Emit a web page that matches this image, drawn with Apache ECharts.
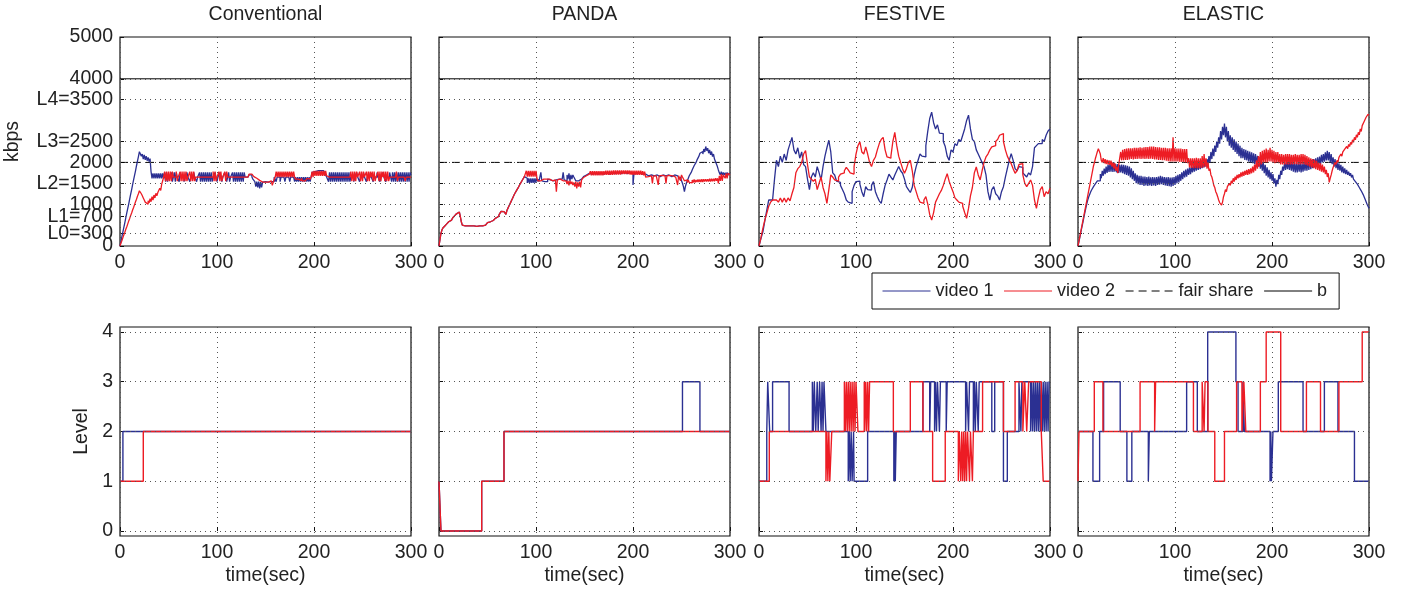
<!DOCTYPE html>
<html>
<head>
<meta charset="utf-8">
<script src="https://cdn.jsdelivr.net/npm/echarts@6/dist/echarts.min.js"></script>
<style>
  html, body { margin: 0; padding: 0; background: #fff; }
  #chart { width: 1413px; height: 593px; }
</style>
</head>
<body>
<div id="chart"></div>
<script>
// Two competing video players sharing one bottleneck link, four rate-adaptation schemes.
// Rates (kbps) are sampled on a regular grid from 0 to 300 s (step per scheme below);
// quality levels are step changes given as [time, level].

const SCHEMES = ['Conventional', 'PANDA', 'FESTIVE', 'ELASTIC'];
const SAMPLE_STEP_SEC = [1, 1, 2, 1];
const TIME_TICKS = [0, 100, 200, 300];

const RATE_TICKS = [0, 300, 700, 1000, 1500, 2000, 2500, 3500, 4000, 5000];
const RATE_TICK_LABELS = ['0', 'L0=300', 'L1=700', '1000', 'L2=1500', '2000', 'L3=2500', 'L4=3500', '4000', '5000'];
const LEVEL_TICKS = [0, 1, 2, 3, 4];

const FAIR_SHARE_KBPS = 2000;
const BOTTLENECK_KBPS = 4000;

// ---- Conventional (1 s samples) ----
const convRate1 = [
  0, 110, 230, 340, 450, 560, 680, 790, 900, 1010, 1130, 1240, 1350, 1470, 1580, 1690, 1800, 1920, 2030, 2140,
  2256, 2230, 2150, 2200, 2080, 2180, 2060, 2150, 2040, 2120, 2020, 2090, 1780, 1620, 1740, 1620, 1740, 1620, 1740, 1620,
  1740, 1620, 1740, 1620, 1740, 1620, 1760, 1540, 1760, 1540, 1650, 1650, 1650, 1760, 1540, 1650, 1760, 1540, 1760, 1650,
  1650, 1540, 1760, 1650, 1650, 1650, 1540, 1650, 1650, 1760, 1650, 1650, 1540, 1650, 1650, 1650, 1760, 1650, 1650, 1540,
  1650, 1650, 1760, 1540, 1760, 1540, 1760, 1540, 1760, 1540, 1760, 1540, 1760, 1540, 1760, 1540, 1650, 1650, 1760, 1650,
  1540, 1650, 1650, 1760, 1650, 1540, 1650, 1650, 1760, 1650, 1540, 1650, 1760, 1540, 1650, 1650, 1760, 1540, 1760, 1540,
  1760, 1540, 1760, 1540, 1760, 1540, 1760, 1540, 1760, 1650, 1650, 1650, 1650, 1700, 1720, 1700, 1650, 1600, 1560, 1540,
  1420, 1540, 1400, 1540, 1380, 1530, 1400, 1530, 1530, 1540, 1530, 1540, 1530, 1540, 1530, 1540, 1540, 1530, 1540, 1650,
  1650, 1540, 1650, 1650, 1650, 1540, 1650, 1650, 1650, 1650, 1540, 1650, 1650, 1650, 1650, 1540, 1650, 1650, 1650, 1650,
  1540, 1650, 1540, 1650, 1540, 1650, 1540, 1650, 1540, 1650, 1540, 1650, 1540, 1650, 1540, 1650, 1540, 1650, 1760, 1780,
  1780, 1800, 1760, 1800, 1780, 1760, 1800, 1780, 1760, 1800, 1780, 1760, 1700, 1650, 1650, 1540, 1760, 1540, 1760, 1540,
  1760, 1540, 1760, 1540, 1760, 1540, 1760, 1540, 1760, 1540, 1760, 1540, 1760, 1540, 1760, 1540, 1760, 1540, 1650, 1650,
  1650, 1540, 1650, 1650, 1760, 1650, 1650, 1540, 1650, 1650, 1650, 1760, 1650, 1650, 1540, 1650, 1650, 1650, 1760, 1650,
  1650, 1540, 1650, 1650, 1650, 1760, 1650, 1650, 1540, 1650, 1650, 1760, 1650, 1650, 1540, 1650, 1650, 1650, 1760, 1650,
  1540, 1760, 1540, 1760, 1540, 1760, 1540, 1760, 1540, 1760, 1540, 1760, 1540, 1760, 1540, 1760, 1540, 1760, 1540, 1760,
  1700
];
const convRate2 = [
  0, 70, 130, 200, 270, 330, 400, 460, 530, 600, 660, 730, 790, 860, 920, 990, 1060, 1120, 1190, 1250,
  1320, 1290, 1250, 1200, 1150, 1100, 1050, 1010, 1000, 1080, 1030, 1130, 1060, 1180, 1100, 1220, 1150, 1260, 1200, 1280,
  1250, 1380, 1330, 1480, 1560, 1650, 1780, 1550, 1780, 1550, 1780, 1550, 1780, 1550, 1780, 1650, 1650, 1650, 1780, 1550,
  1650, 1650, 1780, 1550, 1780, 1550, 1780, 1550, 1780, 1550, 1650, 1650, 1780, 1550, 1780, 1550, 1780, 1550, 1650, 1650,
  1650, 1650, 1650, 1650, 1650, 1650, 1650, 1650, 1650, 1650, 1650, 1650, 1650, 1650, 1650, 1650, 1780, 1550, 1780, 1550,
  1650, 1650, 1780, 1550, 1780, 1550, 1650, 1650, 1780, 1550, 1780, 1650, 1650, 1650, 1650, 1650, 1650, 1650, 1650, 1650,
  1650, 1650, 1650, 1650, 1650, 1650, 1650, 1650, 1650, 1650, 1650, 1650, 1680, 1720, 1750, 1720, 1700, 1680, 1660, 1640,
  1620, 1600, 1580, 1570, 1560, 1540, 1530, 1530, 1530, 1530, 1530, 1540, 1530, 1540, 1550, 1560, 1580, 1450, 1420, 1600,
  1650, 1780, 1650, 1780, 1650, 1780, 1650, 1780, 1650, 1780, 1650, 1780, 1650, 1780, 1650, 1780, 1650, 1780, 1650, 1780,
  1650, 1600, 1560, 1600, 1560, 1600, 1560, 1620, 1560, 1600, 1560, 1600, 1560, 1620, 1580, 1600, 1620, 1650, 1780, 1650,
  1800, 1680, 1800, 1680, 1800, 1680, 1800, 1680, 1800, 1680, 1800, 1680, 1800, 1680, 1650, 1650, 1650, 1650, 1650, 1650,
  1650, 1650, 1650, 1650, 1650, 1650, 1650, 1650, 1650, 1650, 1650, 1650, 1650, 1650, 1650, 1650, 1650, 1650, 1780, 1550,
  1780, 1550, 1780, 1550, 1780, 1650, 1650, 1780, 1550, 1780, 1550, 1780, 1650, 1650, 1780, 1550, 1780, 1550, 1780, 1650,
  1780, 1550, 1780, 1550, 1650, 1650, 1780, 1550, 1780, 1550, 1780, 1650, 1780, 1550, 1780, 1550, 1780, 1550, 1650, 1650,
  1650, 1650, 1650, 1650, 1650, 1780, 1550, 1650, 1650, 1650, 1650, 1650, 1650, 1650, 1550, 1650, 1650, 1650, 1650, 1650,
  1650
];
const convLevel1 = [[0, 1], [3, 2], [300, 2]];
const convLevel2 = [[0, 1], [24, 2], [300, 2]];

// ---- PANDA (1 s samples) ----
const pandaRate1 = [
  0, 150, 300, 380, 430, 460, 480, 500, 530, 550, 580, 600, 620, 650, 670, 700, 720, 750, 770, 790,
  810, 830, 700, 580, 500, 490, 480, 480, 480, 480, 480, 480, 480, 480, 470, 480, 480, 480, 470, 480,
  480, 480, 470, 480, 480, 470, 490, 500, 520, 540, 560, 560, 580, 590, 600, 610, 620, 640, 660, 680,
  700, 720, 750, 790, 830, 870, 820, 860, 800, 760, 850, 900, 950, 1000, 1050, 1100, 1150, 1200, 1250, 1290,
  1330, 1370, 1410, 1450, 1500, 1540, 1580, 1620, 1660, 1700, 1620, 1510, 1620, 1510, 1620, 1510, 1620, 1510, 1620, 1510,
  1620, 1540, 1600, 1540, 1580, 1760, 1560, 1600, 1540, 1580, 1560, 1540, 1600, 1560, 1580, 1540, 1600, 1560, 1580, 1560,
  1580, 1560, 1540, 1600, 1580, 1560, 1600, 1580, 1760, 1580, 1600, 1560, 1700, 1600, 1740, 1560, 1700, 1600, 1700, 1650,
  1620, 1560, 1540, 1560, 1580, 1560, 1600, 1620, 1640, 1660, 1680, 1700, 1720, 1700, 1740, 1720, 1740, 1720, 1740, 1720,
  1740, 1720, 1740, 1720, 1740, 1720, 1740, 1720, 1740, 1720, 1740, 1720, 1750, 1720, 1750, 1720, 1750, 1720, 1750, 1720,
  1760, 1730, 1760, 1730, 1760, 1730, 1760, 1730, 1760, 1730, 1760, 1730, 1760, 1730, 1760, 1730, 1760, 1730, 1760, 1730,
  1460, 1730, 1760, 1730, 1760, 1730, 1750, 1720, 1750, 1720, 1740, 1700, 1720, 1700, 1700, 1680, 1700, 1680, 1700, 1680,
  1700, 1680, 1700, 1660, 1700, 1680, 1700, 1660, 1700, 1680, 1700, 1660, 1700, 1680, 1700, 1660, 1700, 1680, 1700, 1660,
  1700, 1680, 1700, 1660, 1700, 1680, 1660, 1680, 1600, 1650, 1560, 1500, 1420, 1300, 1420, 1500, 1560, 1620, 1680, 1720,
  1760, 1820, 1860, 1920, 1960, 2000, 2060, 2100, 2150, 2220, 2180, 2260, 2200, 2320, 2250, 2380, 2280, 2340, 2220, 2300,
  2180, 2260, 2140, 2200, 2080, 2100, 1960, 1900, 1820, 1750, 1700, 1780, 1700, 1760, 1700, 1750, 1700, 1760, 1700, 1740,
  1700
];
const pandaRate2 = [
  0, 150, 300, 380, 430, 460, 480, 500, 530, 550, 580, 600, 620, 650, 670, 700, 720, 750, 770, 790,
  810, 830, 700, 580, 500, 490, 480, 480, 480, 480, 480, 480, 480, 480, 470, 480, 480, 480, 470, 480,
  480, 480, 470, 480, 480, 470, 490, 500, 520, 540, 560, 560, 580, 590, 600, 610, 620, 640, 660, 680,
  700, 720, 750, 790, 830, 870, 820, 860, 800, 760, 850, 900, 950, 1000, 1050, 1100, 1150, 1200, 1250, 1290,
  1330, 1370, 1410, 1450, 1500, 1540, 1580, 1620, 1660, 1700, 1800, 1660, 1800, 1660, 1800, 1660, 1800, 1660, 1800, 1660,
  1800, 1620, 1560, 1600, 1560, 1580, 1560, 1600, 1560, 1580, 1600, 1560, 1580, 1600, 1560, 1580, 1560, 1600, 1560, 1580,
  1560, 1300, 1580, 1560, 1600, 1560, 1580, 1560, 1560, 1600, 1560, 1580, 1480, 1560, 1450, 1560, 1480, 1540, 1460, 1520,
  1420, 1540, 1380, 1520, 1420, 1540, 1400, 1580, 1620, 1640, 1660, 1680, 1700, 1680, 1720, 1700, 1790, 1690, 1790, 1690,
  1790, 1690, 1790, 1690, 1790, 1690, 1790, 1690, 1790, 1690, 1790, 1700, 1800, 1700, 1800, 1700, 1800, 1700, 1800, 1700,
  1810, 1710, 1810, 1710, 1810, 1710, 1810, 1710, 1810, 1720, 1810, 1720, 1810, 1720, 1810, 1720, 1810, 1710, 1800, 1700,
  1800, 1700, 1800, 1700, 1800, 1700, 1800, 1700, 1800, 1700, 1790, 1690, 1780, 1650, 1680, 1660, 1690, 1650, 1680, 1660,
  1500, 1680, 1650, 1680, 1660, 1650, 1460, 1680, 1650, 1690, 1660, 1650, 1680, 1660, 1500, 1680, 1650, 1690, 1660, 1650,
  1680, 1700, 1660, 1650, 1690, 1680, 1460, 1680, 1650, 1560, 1700, 1650, 1680, 1560, 1540, 1580, 1520, 1580, 1520, 1560,
  1510, 1580, 1520, 1590, 1520, 1580, 1530, 1590, 1530, 1590, 1530, 1600, 1530, 1600, 1540, 1600, 1540, 1600, 1540, 1610,
  1540, 1610, 1550, 1610, 1550, 1620, 1560, 1620, 1500, 1680, 1560, 1720, 1560, 1700, 1740, 1620, 1740, 1620, 1740, 1700,
  1700
];
const pandaLevel1 = [[0, 1], [2, 0], [44, 1], [67, 2], [251, 3], [269, 2], [300, 2]];
const pandaLevel2 = [[0, 1], [2, 0], [44, 1], [67, 2], [300, 2]];

// ---- FESTIVE (2 s samples) ----
const festiveRate1 = [
  0, 180, 340, 600, 850, 1100, 1100, 1100, 1600, 2050,
  1900, 2150, 2000, 2200, 2050, 2300, 2450, 2600, 2300, 2200,
  2350, 2100, 2250, 1950, 1900, 1600, 1350, 1650, 1750, 1650,
  1900, 1750, 1580, 1900, 2150, 2350, 2530, 2250, 1750, 1700,
  1550, 1520, 1450, 1350, 1250, 1100, 1050, 1020, 1300, 1450,
  1540, 1550, 1480, 1300, 1180, 1420, 1350, 1340, 1450, 1540,
  1300, 1180, 1080, 1020, 1250, 1450, 1580, 1720, 1650, 1580,
  1700, 1800, 1900, 1800, 1740, 1600, 1420, 1350, 1280, 1400,
  1700, 1900, 2050, 2200, 2150, 2130, 2400, 2750, 3050, 3200,
  2950, 2800, 2900, 2700, 2690, 2500, 2380, 2150, 2050, 2300,
  2250, 2450, 2400, 2550, 2500, 2650, 2800, 3000, 3130, 2800,
  2550, 2500, 2300, 2200, 2100, 2000, 1900, 1700, 1300, 1100,
  1350, 1420, 1250, 1200, 1100, 1300, 1420, 1650, 1850, 2050,
  2210, 2050, 1850, 1800, 1900, 1880, 1750, 1700, 1650, 1750,
  1700, 1900, 2350, 2400, 2450, 2450, 2550, 2500, 2650, 2750,
  2800
];
const festiveRate2 = [
  0, 200, 420, 620, 780, 950, 1050, 1100, 1100, 1100,
  1050, 1150, 1050, 1150, 1050, 1150, 1080, 1250, 1400, 1750,
  1850, 1900, 2000, 2200, 2280, 1950, 1650, 1600, 1550, 1600,
  1350, 1500, 1650, 1400, 1250, 1020, 1350, 1700, 1650, 1580,
  1550, 1650, 1720, 1750, 1800, 1880, 1820, 1750, 1720, 1900,
  2200, 2400, 2490, 2250, 2200, 2370, 2200, 2000, 1900, 2050,
  2130, 2300, 2450, 2550, 2600, 2300, 2130, 2100, 2150, 2500,
  2720, 2400, 2150, 2000, 1850, 1740, 1850, 2000, 2050, 1800,
  1450, 1300, 1150, 1050, 1020, 1100, 1180, 1000, 750, 620,
  800, 1050, 1150, 1250, 1330, 1450, 1600, 1730, 1550, 1420,
  1300, 1150, 1100, 1050, 1020, 950, 800, 660, 900, 1200,
  1400, 1750, 1890, 1700, 1580, 1800, 2000, 2130, 2200, 2300,
  2370, 2400, 2500, 2550, 2650, 2690, 2500, 2300, 2150, 2050,
  1970, 1850, 1740, 1800, 1950, 1970, 1700, 1500, 1420, 1500,
  1580, 1450, 1100, 900, 1150, 1350, 1420, 1180, 1300, 1250,
  1380
];
const festiveLevel1 = [
  [0, 1], [8, 2], [9, 3], [11, 2], [14, 3], [31, 2], [55, 3], [56, 2], [57, 3], [58.5, 2],
  [60, 3], [61, 2], [62.5, 3], [64, 2], [65, 3], [66, 2], [67, 3], [69, 2], [92, 1], [93, 2],
  [94, 1], [95, 2], [96, 1], [97.5, 2], [98, 1], [112, 2], [139, 1], [140, 2], [140.5, 1], [141.5, 2],
  [169, 3], [176, 2], [177, 3], [181, 2], [182, 3], [183, 2], [184, 3], [186, 2], [187, 3], [193, 2],
  [194, 3], [213, 2], [214, 3], [216, 2], [217, 3], [221, 2], [222, 3], [223, 2], [224, 3], [226, 2],
  [227, 3], [240, 2], [243, 3], [252, 1], [256, 2], [268, 3], [270, 2], [271, 3], [280, 2], [281, 3],
  [282, 2], [283, 3], [284, 2], [285, 3], [286, 2], [287, 3], [288, 2], [289, 3], [290, 2], [291, 3],
  [292, 2], [293, 3], [294, 2], [295, 3], [296, 2], [297, 3], [298, 2], [299, 3], [300, 3]
];
const festiveLevel2 = [
  [0, 1], [10.6, 2], [69, 1], [70, 2], [71, 1], [72, 2], [73, 1], [75, 2], [88, 3], [89, 2],
  [90, 3], [91, 2], [92, 3], [93, 2], [94, 3], [95, 2], [96, 3], [97, 2], [98, 3], [99, 2],
  [100, 3], [102, 2], [108.5, 3], [109, 2], [110, 3], [111, 2], [112, 3], [113, 2], [114, 3], [138.5, 2],
  [156, 3], [169, 2], [179, 1], [192, 2], [205.5, 1], [206.5, 2], [208, 1], [209, 2], [210, 1], [211, 2],
  [212, 1], [213, 2], [214, 1], [215, 2], [217, 1], [218, 2], [220, 1], [221, 2], [230.5, 3], [252, 2],
  [264, 3], [272, 2], [274, 3], [276, 2], [278, 3], [291, 2], [293, 1], [300, 1]
];

// ---- ELASTIC (1 s samples) ----
const elasticRate1 = [
  0, 110, 220, 340, 450, 560, 680, 790, 900, 1000, 1100, 1170, 1230, 1290, 1340, 1380, 1420, 1460, 1490, 1520,
  1560, 1600, 1560, 1720, 1620, 1800, 1680, 1850, 1720, 1900, 1750, 1950, 1770, 1980, 1780, 1990, 1770, 2000, 1780, 1960,
  1760, 1960, 1750, 1940, 1760, 1950, 1740, 1940, 1720, 1930, 1700, 1920, 1680, 1900, 1640, 1860, 1600, 1800, 1560, 1740,
  1500, 1700, 1480, 1680, 1460, 1680, 1460, 1660, 1440, 1660, 1450, 1650, 1440, 1660, 1450, 1640, 1440, 1650, 1450, 1640,
  1440, 1650, 1460, 1660, 1470, 1680, 1480, 1660, 1460, 1650, 1450, 1640, 1440, 1650, 1430, 1640, 1420, 1640, 1440, 1650,
  1460, 1680, 1500, 1700, 1520, 1720, 1560, 1760, 1600, 1800, 1640, 1830, 1660, 1850, 1700, 1880, 1720, 1900, 1760, 1940,
  1780, 1960, 1800, 1980, 1820, 2000, 1840, 2020, 1860, 2040, 1880, 2060, 1900, 2080, 1940, 2150, 2000, 2250, 2080, 2330,
  2150, 2400, 2250, 2500, 2350, 2600, 2450, 2750, 2550, 2850, 2650, 2930, 2600, 2850, 2500, 2750, 2400, 2650, 2350, 2600,
  2300, 2550, 2250, 2500, 2200, 2450, 2150, 2400, 2100, 2350, 2100, 2320, 2060, 2300, 2050, 2280, 2020, 2260, 2000, 2240,
  1980, 2220, 1960, 2200, 1940, 2160, 1900, 2120, 1850, 2050, 1800, 2000, 1740, 1940, 1680, 1880, 1640, 1820, 1600, 1760,
  1560, 1720, 1500, 1620, 1420, 1580, 1480, 1700, 1600, 1800, 1700, 1900, 1800, 2000, 1820, 2020, 1840, 2050, 1820, 2040,
  1800, 2020, 1780, 2000, 1760, 1980, 1760, 2000, 1780, 2000, 1760, 1980, 1780, 2000, 1800, 2020, 1800, 2040, 1820, 2060,
  1840, 2060, 1860, 2080, 1880, 2100, 1900, 2120, 1920, 2140, 1960, 2180, 2000, 2200, 2020, 2240, 2050, 2280, 2050, 2250,
  2000, 2200, 1960, 2120, 1900, 2080, 1860, 2020, 1820, 1980, 1800, 1940, 1760, 1900, 1740, 1860, 1720, 1820, 1700, 1780,
  1680, 1740, 1640, 1700, 1600, 1640, 1540, 1580, 1480, 1500, 1400, 1420, 1320, 1330, 1230, 1200, 1120, 1080, 1000, 950,
  900
];
const elasticRate2 = [
  0, 120, 240, 360, 480, 600, 720, 840, 960, 1080, 1200, 1320, 1440, 1560, 1680, 1800, 1920, 2000, 2100, 2180,
  2260, 2330, 2375, 2200, 2050, 2000, 2100, 1980, 2080, 1960, 2060, 1950, 2050, 1940, 2040, 1900, 2000, 1850, 1980, 1800,
  1900, 1740, 1950, 2100, 2250, 2050, 2300, 2050, 2320, 2060, 2330, 2060, 2340, 2070, 2340, 2080, 2340, 2070, 2350, 2080,
  2350, 2080, 2350, 2090, 2360, 2080, 2350, 2090, 2360, 2080, 2370, 2090, 2370, 2080, 2380, 2090, 2380, 2080, 2380, 2070,
  2370, 2070, 2360, 2060, 2360, 2060, 2350, 2050, 2350, 2050, 2350, 2040, 2340, 2030, 2340, 2020, 2340, 2020, 2600, 2020,
  2340, 2020, 2330, 2020, 2330, 2010, 2330, 2010, 2320, 2000, 2320, 2000, 2320, 1980, 2100, 1880, 2100, 1870, 2100, 1860,
  2100, 1860, 2110, 1860, 2100, 1860, 2100, 1870, 2150, 1880, 2200, 1900, 2100, 1850, 2000, 1800, 1850, 1700, 1650, 1560,
  1450, 1400, 1300, 1250, 1180, 1100, 1040, 1000, 980, 1050, 1180, 1250, 1350, 1300, 1420, 1380, 1500, 1450, 1560, 1500,
  1620, 1540, 1660, 1580, 1700, 1620, 1720, 1640, 1760, 1660, 1780, 1680, 1800, 1700, 1820, 1700, 1840, 1720, 1860, 1740,
  1900, 1760, 1950, 1800, 2050, 1850, 2150, 1900, 2250, 1950, 2280, 1980, 2300, 2000, 2330, 2000, 2300, 2020, 2350, 2020,
  2300, 2000, 2280, 1980, 2250, 2000, 2250, 1980, 2200, 1950, 2200, 1950, 2180, 1950, 2200, 1950, 2200, 1950, 2200, 1950,
  2180, 1950, 2180, 1960, 2200, 1960, 2180, 1950, 2180, 1950, 2200, 1960, 2200, 1960, 2180, 1940, 2150, 1920, 2120, 1900,
  2100, 1880, 2080, 1860, 2060, 1840, 2040, 1820, 2000, 1800, 1980, 1780, 1950, 1760, 1900, 1720, 1820, 1650, 1740, 1520,
  1620, 1700, 1800, 1880, 1900, 2000, 1950, 2050, 2000, 2120, 2080, 2200, 2150, 2250, 2220, 2320, 2280, 2380, 2330, 2430,
  2380, 2480, 2430, 2540, 2480, 2600, 2540, 2660, 2600, 2720, 2660, 2800, 2740, 2880, 2840, 2980, 2950, 3080, 3050, 3150,
  3130
];
const elasticLevel1 = [
  [0, 2], [15.4, 1], [22.3, 2], [26.4, 3], [43.5, 2], [50.4, 1], [55.5, 2], [72.5, 1], [73.5, 2], [112, 3],
  [123, 2], [133.7, 4], [162.8, 3], [165, 2], [170, 3], [171.5, 2], [198, 1], [198.8, 2], [199.4, 1], [201, 2],
  [206.5, 3], [232, 2], [254, 3], [268, 2], [285, 1], [300, 1]
];
const elasticLevel2 = [
  [0, 1], [1, 2], [16.8, 3], [25.7, 2], [64, 3], [79, 2], [80, 3], [119, 2], [128, 3], [130, 2],
  [131, 3], [134, 2], [141, 1], [151, 2], [163.5, 3], [169, 2], [171, 3], [173, 2], [188, 3], [194, 4],
  [209, 2], [235.5, 3], [250, 2], [269, 3], [293, 4], [300, 4]
];

const RATES = [[convRate1, convRate2], [pandaRate1, pandaRate2], [festiveRate1, festiveRate2], [elasticRate1, elasticRate2]];
const LEVELS = [[convLevel1, convLevel2], [pandaLevel1, pandaLevel2], [festiveLevel1, festiveLevel2], [elasticLevel1, elasticLevel2]];

// ---- styling / layout ----
const FONT = '"Liberation Sans", Arial, Helvetica, sans-serif';
const TEXT_COLOR = '#222';
const BLUE = '#2b3092';
const RED = '#ed1c24';
const DOT = { type: [1, 4], color: '#555', width: 1 };
const COL_LEFT = [120, 439, 759, 1078];
const PLOT_W = 291, PLOT_H = 209;
const ROW_TOP = [37, 327];
const FS = 19.5;
const LEGEND_FS = 18;

function samplesToPairs(values, step) {
  return values.map((v, i) => [i * step, v]);
}

function gridLineSeries(idx, values) {
  return {
    type: 'line', xAxisIndex: idx, yAxisIndex: idx, data: [], silent: true, z: 1,
    markLine: {
      silent: true, animation: false, symbol: ['none', 'none'],
      label: { show: false }, emphasis: { disabled: true },
      lineStyle: DOT,
      data: values.map(v => ({ yAxis: v }))
    }
  };
}

const rateFormatter = v => RATE_TICK_LABELS[RATE_TICKS.indexOf(v)];
// Tick labels of the kbps axis sit close together; they are split over two
// label layers so neighbouring labels are never dropped as overlapping.
const RATE_LABELS_A = RATE_TICKS.filter((_, i) => i % 2 === 0);
const RATE_LABELS_B = RATE_TICKS.filter((_, i) => i % 2 === 1);

const grid = [], xAxis = [], yAxis = [], series = [], graphic = [];
const tMin = TIME_TICKS[0], tMax = TIME_TICKS[TIME_TICKS.length - 1];

for (let row = 0; row < 2; row++) {
  for (let c = 0; c < 4; c++) {
    const idx = row * 4 + c;
    grid.push({
      left: COL_LEFT[c], top: ROW_TOP[row], width: PLOT_W, height: PLOT_H,
      show: true, borderColor: '#111', borderWidth: 1.2, backgroundColor: 'transparent'
    });
    xAxis.push({
      gridIndex: idx, type: 'value', min: tMin, max: tMax, interval: 100,
      axisLine: { show: false },
      axisTick: { show: true, inside: true, length: 4, lineStyle: { color: '#111' } },
      axisLabel: {
        show: true, margin: 7, fontSize: FS, color: TEXT_COLOR, fontFamily: FONT,
        showMinLabel: true, showMaxLabel: true, hideOverlap: false
      },
      splitLine: { show: true, lineStyle: DOT },
      name: row === 1 ? 'time(sec)' : '',
      nameLocation: 'middle', nameGap: 30,
      nameTextStyle: { fontSize: FS, color: TEXT_COLOR, fontFamily: FONT }
    });
    const ticks = row === 0 ? RATE_TICKS : LEVEL_TICKS;
    yAxis.push({
      gridIndex: idx, type: 'value',
      min: row === 0 ? 0 : -0.1, max: row === 0 ? 5000 : 4.1,
      axisLine: { show: false },
      axisTick: { show: true, inside: true, length: 4, customValues: ticks, lineStyle: { color: '#111' } },
      axisLabel: {
        show: c === 0, margin: 7, fontSize: FS, color: TEXT_COLOR, fontFamily: FONT,
        customValues: row === 0 ? RATE_LABELS_A : LEVEL_TICKS,
        showMinLabel: true, showMaxLabel: true, hideOverlap: false,
        formatter: row === 0 ? rateFormatter : (v => String(v))
      },
      splitLine: { show: false },
      name: c === 0 ? (row === 0 ? 'kbps' : 'Level') : '',
      nameLocation: 'middle', nameGap: row === 0 ? 97 : 28,
      nameTextStyle: { fontSize: FS, color: TEXT_COLOR, fontFamily: FONT }
    });

    if (row === 0) {
      const step = SAMPLE_STEP_SEC[c];
      series.push(gridLineSeries(idx, RATE_TICKS.slice(1, -1)));
      series.push({
        name: 'b', type: 'line', xAxisIndex: idx, yAxisIndex: idx, z: 2,
        symbol: 'none', silent: true, color: '#000',
        lineStyle: { color: '#000', width: 1 },
        data: [[tMin, BOTTLENECK_KBPS], [tMax, BOTTLENECK_KBPS]]
      });
      series.push({
        name: 'fair share', type: 'line', xAxisIndex: idx, yAxisIndex: idx, z: 2,
        symbol: 'none', silent: true, color: '#000',
        lineStyle: { color: '#000', width: 1, type: [8, 5] },
        data: [[tMin, FAIR_SHARE_KBPS], [tMax, FAIR_SHARE_KBPS]]
      });
      series.push({
        name: 'video 1', type: 'line', xAxisIndex: idx, yAxisIndex: idx, z: 3,
        symbol: 'none', silent: true, step: 'end', color: BLUE,
        lineStyle: { color: BLUE, width: 1.3 },
        data: samplesToPairs(RATES[c][0], step)
      });
      series.push({
        name: 'video 2', type: 'line', xAxisIndex: idx, yAxisIndex: idx, z: 4,
        symbol: 'none', silent: true, step: 'end', color: RED,
        lineStyle: { color: RED, width: 1.3 },
        data: samplesToPairs(RATES[c][1], step)
      });
    } else {
      series.push(gridLineSeries(idx, LEVEL_TICKS));
      series.push({
        name: 'video 1', type: 'line', xAxisIndex: idx, yAxisIndex: idx, z: 3,
        symbol: 'none', silent: true, step: 'end', color: BLUE,
        lineStyle: { color: BLUE, width: 1.4 },
        data: LEVELS[c][0]
      });
      series.push({
        name: 'video 2', type: 'line', xAxisIndex: idx, yAxisIndex: idx, z: 4,
        symbol: 'none', silent: true, step: 'end', color: RED,
        lineStyle: { color: RED, width: 1.4 },
        data: LEVELS[c][1]
      });
    }
  }
}

// second label layer for the kbps axis of the first panel
yAxis.push({
  gridIndex: 0, type: 'value', min: 0, max: 5000, position: 'left',
  axisLine: { show: false }, axisTick: { show: false }, splitLine: { show: false },
  axisLabel: {
    show: true, margin: 7, fontSize: FS, color: TEXT_COLOR, fontFamily: FONT,
    customValues: RATE_LABELS_B, showMinLabel: true, showMaxLabel: true, hideOverlap: false,
    formatter: rateFormatter
  }
});

SCHEMES.forEach((name, c) => {
  graphic.push({
    type: 'text', x: COL_LEFT[c] + PLOT_W / 2, y: 15,
    style: {
      text: name, fill: TEXT_COLOR, fontSize: FS, fontFamily: FONT,
      textAlign: 'center', textVerticalAlign: 'middle', align: 'center', verticalAlign: 'middle'
    }
  });
});

const chart = echarts.init(document.getElementById('chart'), null, { renderer: 'canvas' });
chart.setOption({
  animation: false,
  backgroundColor: '#fff',
  textStyle: { fontFamily: FONT },
  grid, xAxis, yAxis, series, graphic,
  legend: {
    data: ['video 1', 'video 2', 'fair share', 'b'],
    left: 872, top: 273,
    orient: 'horizontal',
    itemWidth: 48, itemHeight: 12, itemGap: 10,
    padding: [9, 12, 9, 10],
    borderColor: '#111', borderWidth: 1,
    backgroundColor: '#fff',
    selectedMode: false,
    itemStyle: { color: 'transparent', borderWidth: 0, opacity: 0 },
    lineStyle: { width: 1 },
    textStyle: { fontSize: LEGEND_FS, color: TEXT_COLOR, fontFamily: FONT }
  }
});
</script>
</body>
</html>
